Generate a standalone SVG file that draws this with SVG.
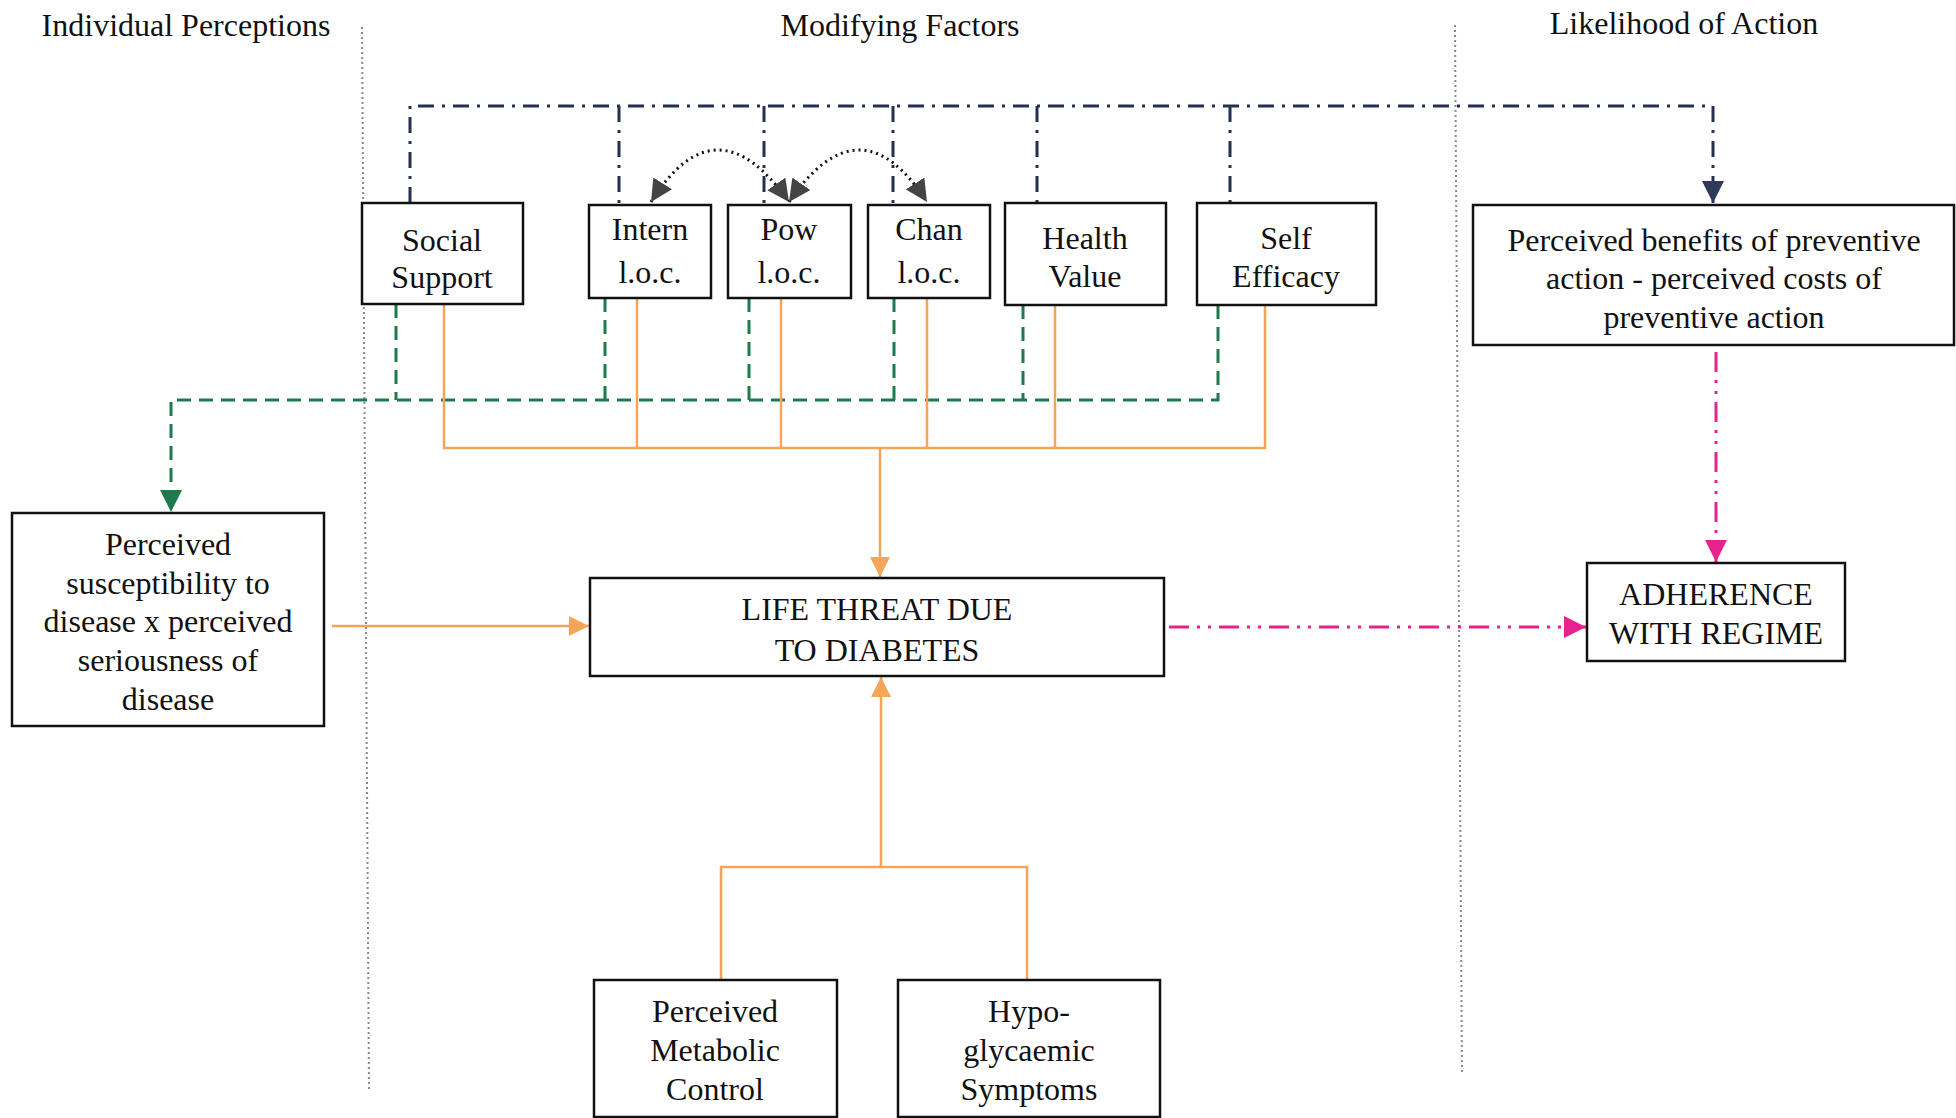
<svg xmlns="http://www.w3.org/2000/svg" width="1956" height="1118" viewBox="0 0 1956 1118">
<style>
  text { font-family: "Liberation Serif", "Times New Roman", serif; font-size: 32px; fill: #111; text-anchor: middle; }
  .box { fill: #fff; stroke: #111; stroke-width: 2.5; }
  .divider { stroke: #8a8a8a; stroke-width: 2; stroke-dasharray: 2 3; fill: none; }
  .navy { stroke: #24304f; stroke-width: 3; fill: none; stroke-dasharray: 16 8 3 8; }
  .green { stroke: #1d7a4c; stroke-width: 3; fill: none; stroke-dasharray: 14 8; }
  .orange { stroke: #f5a55a; stroke-width: 2.5; fill: none; }
  .magenta { stroke: #e8218f; stroke-width: 3; fill: none; stroke-dasharray: 20 8 3 8 3 8; }
  .curve { stroke: #111; stroke-width: 3; fill: none; stroke-dasharray: 2 4; }
</style>
<defs>
  <marker id="arr-orange" viewBox="0 0 12 12" refX="12" refY="6" markerUnits="userSpaceOnUse" markerWidth="20" markerHeight="20" orient="auto">
    <path d="M0,0 L12,6 L0,12 z" fill="#f5a55a"/>
  </marker>
  <marker id="arr-green" viewBox="0 0 12 12" refX="12" refY="6" markerUnits="userSpaceOnUse" markerWidth="22" markerHeight="22" orient="auto">
    <path d="M0,0 L12,6 L0,12 z" fill="#1d7a4c"/>
  </marker>
  <marker id="arr-navy" viewBox="0 0 12 12" refX="12" refY="6" markerUnits="userSpaceOnUse" markerWidth="22" markerHeight="22" orient="auto">
    <path d="M0,0 L12,6 L0,12 z" fill="#2e3a58"/>
  </marker>
  <marker id="arr-magenta" viewBox="0 0 12 12" refX="12" refY="6" markerUnits="userSpaceOnUse" markerWidth="22" markerHeight="22" orient="auto">
    <path d="M0,0 L12,6 L0,12 z" fill="#e8218f"/>
  </marker>
  <marker id="arr-gray" viewBox="0 0 12 12" refX="12" refY="6" markerUnits="userSpaceOnUse" markerWidth="22" markerHeight="22" orient="auto-start-reverse">
    <path d="M0,0 L12,6 L0,12 z" fill="#444"/>
  </marker>
</defs>

<g id="headers">
  <text x="186" y="36">Individual Perceptions</text>
  <text x="900" y="36">Modifying Factors</text>
  <text x="1684" y="34">Likelihood of Action</text>
</g>

<g id="dividers">
  <line class="divider" x1="362" y1="27" x2="369" y2="1089"/>
  <line class="divider" x1="1455" y1="25" x2="1462" y2="1075"/>
</g>

<g id="connectors">
  <!-- navy dash-dot -->
  <path class="navy" d="M410 203 V106 H1713 V203" marker-end="url(#arr-navy)"/>
  <path class="navy" d="M619 106 V205"/>
  <path class="navy" d="M764 106 V205"/>
  <path class="navy" d="M893 106 V205"/>
  <path class="navy" d="M1037 106 V203"/>
  <path class="navy" d="M1230 106 V203"/>
  <!-- curved dotted -->
  <path class="curve" d="M651 202 Q 716 98 789 202" marker-start="url(#arr-gray)" marker-end="url(#arr-gray)"/>
  <path class="curve" d="M789 202 Q 860 98 927 202" marker-start="url(#arr-gray)" marker-end="url(#arr-gray)"/>
  <!-- green dashed -->
  <path class="green" d="M1218 305 V400 H171 V512" marker-end="url(#arr-green)"/>
  <path class="green" d="M396 304 V400"/>
  <path class="green" d="M605 298 V400"/>
  <path class="green" d="M749 298 V400"/>
  <path class="green" d="M894 298 V400"/>
  <path class="green" d="M1023 305 V400"/>
  <!-- orange -->
  <path class="orange" d="M444 304 V448 H1265 V305"/>
  <path class="orange" d="M637 298 V448"/>
  <path class="orange" d="M781 298 V448"/>
  <path class="orange" d="M927 298 V448"/>
  <path class="orange" d="M1055 305 V448"/>
  <path class="orange" d="M880 448 V577" marker-end="url(#arr-orange)"/>
  <path class="orange" d="M332 626 H589" marker-end="url(#arr-orange)"/>
  <path class="orange" d="M721 980 V867 H1027 V980"/>
  <path class="orange" d="M881 867 V677" marker-end="url(#arr-orange)"/>
  <!-- magenta -->
  <path class="magenta" d="M1169 627 H1586" marker-end="url(#arr-magenta)"/>
  <path class="magenta" d="M1716 352 V562" marker-end="url(#arr-magenta)"/>
</g>

<g id="social-support">
  <rect class="box" x="362" y="203" width="161" height="101"/>
  <text x="442" y="251">Social</text>
  <text x="442" y="288">Support</text>
</g>
<g id="intern-loc">
  <rect class="box" x="589" y="205" width="122" height="93"/>
  <text x="650" y="240">Intern</text>
  <text x="650" y="283">l.o.c.</text>
</g>
<g id="pow-loc">
  <rect class="box" x="728" y="205" width="123" height="93"/>
  <text x="789" y="240">Pow</text>
  <text x="789" y="283">l.o.c.</text>
</g>
<g id="chan-loc">
  <rect class="box" x="868" y="205" width="122" height="93"/>
  <text x="929" y="240">Chan</text>
  <text x="929" y="283">l.o.c.</text>
</g>
<g id="health-value">
  <rect class="box" x="1005" y="203" width="161" height="102"/>
  <text x="1085" y="249">Health</text>
  <text x="1085" y="287">Value</text>
</g>
<g id="self-efficacy">
  <rect class="box" x="1197" y="203" width="179" height="102"/>
  <text x="1286" y="249">Self</text>
  <text x="1286" y="287">Efficacy</text>
</g>
<g id="benefits-costs">
  <rect class="box" x="1473" y="205" width="481" height="140"/>
  <text x="1714" y="251">Perceived benefits of preventive</text>
  <text x="1714" y="289">action - perceived costs of</text>
  <text x="1714" y="328">preventive action</text>
</g>
<g id="susceptibility">
  <rect class="box" x="12" y="513" width="312" height="213"/>
  <text x="168" y="555">Perceived</text>
  <text x="168" y="594">susceptibility to</text>
  <text x="168" y="632">disease x perceived</text>
  <text x="168" y="671">seriousness of</text>
  <text x="168" y="710">disease</text>
</g>
<g id="life-threat">
  <rect class="box" x="590" y="578" width="574" height="98"/>
  <text x="877" y="620">LIFE THREAT DUE</text>
  <text x="877" y="661">TO DIABETES</text>
</g>
<g id="adherence">
  <rect class="box" x="1587" y="563" width="258" height="98"/>
  <text x="1716" y="605">ADHERENCE</text>
  <text x="1716" y="644">WITH REGIME</text>
</g>
<g id="metabolic-control">
  <rect class="box" x="594" y="980" width="243" height="137"/>
  <text x="715" y="1022">Perceived</text>
  <text x="715" y="1061">Metabolic</text>
  <text x="715" y="1100">Control</text>
</g>
<g id="hypoglycaemic">
  <rect class="box" x="898" y="980" width="262" height="137"/>
  <text x="1029" y="1022">Hypo-</text>
  <text x="1029" y="1061">glycaemic</text>
  <text x="1029" y="1100">Symptoms</text>
</g>
</svg>
